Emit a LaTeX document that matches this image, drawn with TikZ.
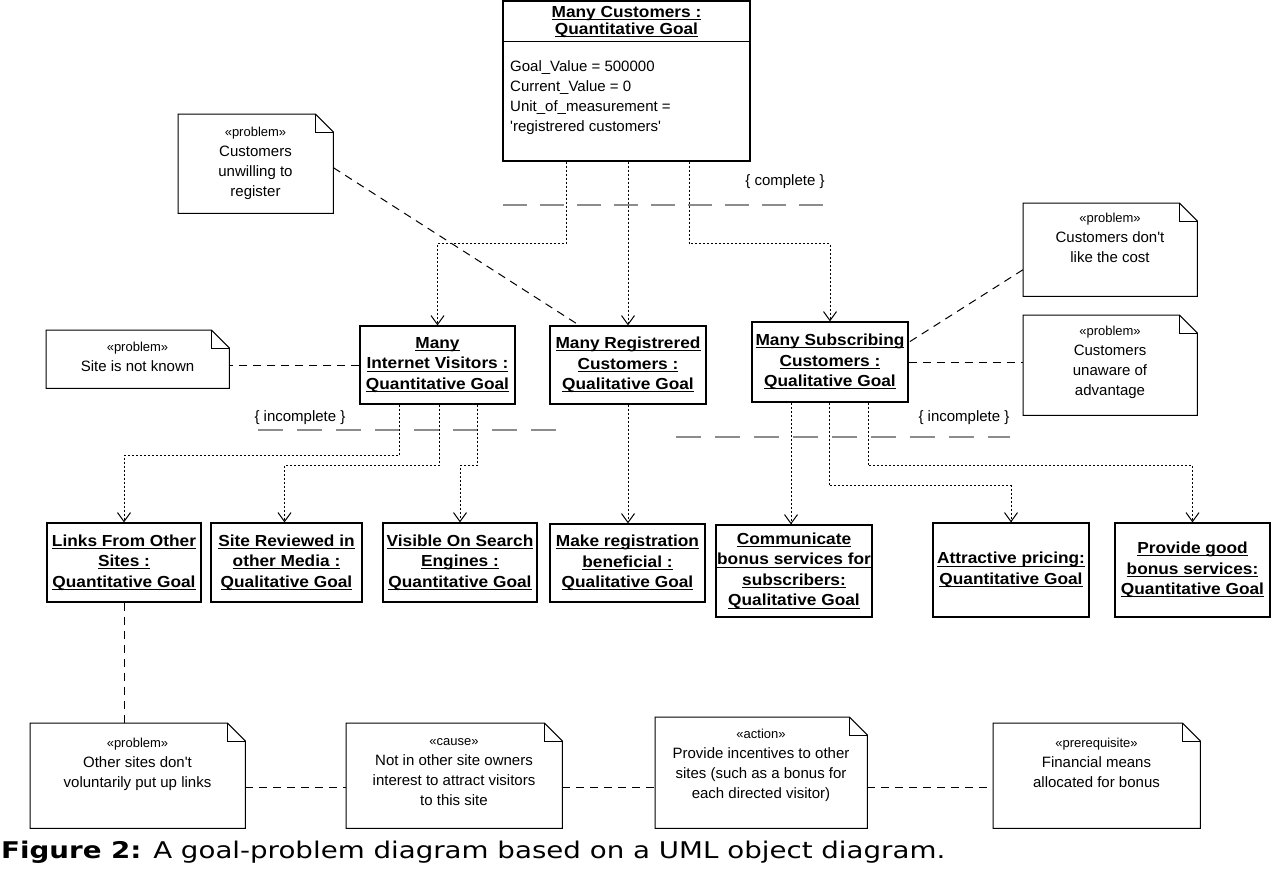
\documentclass[tikz,border=0pt]{standalone}
\usepackage{fontspec}
\setmainfont{Liberation Sans}
\newfontfamily\goalfont[FakeStretch=1.08]{Liberation Sans}
\newfontfamily\capfont{DejaVu Sans}
\usetikzlibrary{arrows.meta,calc}
\newcommand\gul[1]{\setbox0\hbox{#1}\rlap{\vrule width\wd0 height -1.6pt depth 2.6pt}\box0}
\newcommand\sty[1]{{\fontsize{13}{20}\selectfont «#1»}}
\newcommand\foldnote[1]{%
  \draw[noteline] (#1.north west) -- ([xshift=-18pt]#1.north east) -- ([yshift=-18pt]#1.north east) -- (#1.south east) -- (#1.south west) -- cycle;
  \draw[noteline] ([xshift=-18pt]#1.north east) |- ([yshift=-18pt]#1.north east);}
\begin{document}
\begin{tikzpicture}[x=1pt,y=-1pt,
  goalbox/.style={draw, line width=1.2pt, fill=white, inner sep=0pt, align=center,
    font=\goalfont\bfseries\fontsize{16}{20.5}\selectfont},
  goaltext/.style={inner sep=0pt, align=center, font=\goalfont\bfseries\fontsize{16}{17}\selectfont},
  attrtext/.style={inner sep=0pt, align=left, font=\fontsize{15}{20}\selectfont},
  notebox/.style={inner sep=0pt, draw=none},
  notetext/.style={inner sep=0pt, align=center, anchor=north, font=\fontsize{15}{20}\selectfont},
  noteline/.style={line width=1pt, line join=miter},
  dep/.style={line width=1pt, dash pattern=on 2pt off 2pt,
    -{Straight Barb[length=9pt,width=13pt,line width=1pt]}},
  attach/.style={line width=1pt, dash pattern=on 8pt off 6pt},
  constr/.style={line width=2.2pt, draw=black!45},
  cstext/.style={inner sep=0pt, font=\fontsize{15}{18}\selectfont}
]
\useasboundingbox (0,0) rectangle (1272,868);
\fill[white] (0,0) rectangle (1272,868);

% ---------- top object ----------
\node[goalbox, minimum width=247pt, minimum height=160pt] (top) at (626.5,81) {};
\draw[line width=1.2pt] ([yshift=-41pt]top.north west) -- ([yshift=-41pt]top.north east);
\node[goaltext] (topname) at (626.5,21.5) {\gul{Many Customers :}\\\gul{Quantitative Goal}};
\node[attrtext, anchor=west] (topattr) at (510,98) {Goal\_Value = 500000\\Current\_Value = 0\\Unit\_of\_measurement =\\\textquotesingle registrered customers\textquotesingle};

% ---------- second level ----------
\node[goalbox, minimum width=155pt, minimum height=78pt] (visitors) at (437.5,365)
  {\gul{Many}\\\gul{Internet Visitors :}\\\gul{Quantitative Goal}};
\node[goalbox, minimum width=156pt, minimum height=78pt] (registered) at (628,365)
  {\gul{Many Registrered}\\\gul{Customers :}\\\gul{Qualitative Goal}};
\node[goalbox, minimum width=156pt, minimum height=80pt] (subscribing) at (830,362)
  {\gul{Many Subscribing}\\\gul{Customers :}\\\gul{Qualitative Goal}};

% ---------- third level ----------
\node[goalbox, minimum width=154pt, minimum height=79pt] (links) at (124,562.5)
  {\gul{Links From Other}\\\gul{Sites :}\\\gul{Quantitative Goal}};
\node[goalbox, minimum width=151pt, minimum height=79pt] (reviewed) at (286.5,562.5)
  {\gul{Site Reviewed in}\\\gul{other Media :}\\\gul{Qualitative Goal}};
\node[goalbox, minimum width=154pt, minimum height=79pt] (visible) at (460,562.5)
  {\gul{Visible On Search}\\\gul{Engines :}\\\gul{Quantitative Goal}};
\node[goalbox, minimum width=155pt, minimum height=78pt] (makereg) at (627.5,563)
  {\gul{Make registration}\\\gul{beneficial :}\\\gul{Qualitative Goal}};
\node[goalbox, minimum width=156pt, minimum height=92pt] (communicate) at (794,571)
  {\gul{Communicate}\\\gul{bonus services for}\\\gul{subscribers:}\\\gul{Qualitative Goal}};
\node[goalbox, minimum width=156pt, minimum height=94pt] (attractive) at (1011,570)
  {\gul{Attractive pricing:}\\\gul{Quantitative Goal}};
\node[goalbox, minimum width=155pt, minimum height=94pt] (provide) at (1192.5,570)
  {\gul{Provide good}\\\gul{bonus services:}\\\gul{Quantitative Goal}};

% ---------- constraint lines ----------
\draw[constr, dash pattern=on 24pt off 13pt] (503,205) -- (830,205);
\node[cstext] (complete) at (785,182) {\{ complete \}};
\draw[constr, dash pattern=on 25pt off 14pt] (258,430) -- (558,430);
\node[cstext] (incl) at (300,418) {\{ incomplete \}};
\draw[constr, dash pattern=on 25pt off 14pt] (676,437) -- (1010,437);
\node[cstext] (incr) at (964,418) {\{ incomplete \}};

% ---------- dependency arrows ----------
\draw[dep] ([xshift=-60.5pt]top.south) -- ++(0,82) -| (visitors.north);
\draw[dep] (top.south -| registered.north) -- (registered.north);
\draw[dep] ([xshift=62.5pt]top.south) -- ++(0,82) -| (subscribing.north);

\draw[dep] ([xshift=-38.5pt]visitors.south) -- ++(0,51) -| (links.north);
\draw[dep] ([xshift=1.5pt]visitors.south) -- ++(0,61) -| ([xshift=-2pt]reviewed.north);
\draw[dep] ([xshift=39.5pt]visitors.south) -- ++(0,61) -| (visible.north);

\draw[dep] (registered.south) -- (registered.south |- makereg.north);

\draw[dep] ([xshift=-39pt]subscribing.south) -- ([xshift=-3pt]communicate.north);
\draw[dep] ([xshift=-1pt]subscribing.south) -- ++(0,83) -| (attractive.north);
\draw[dep] ([xshift=38pt]subscribing.south) -- ++(0,63) -| (provide.north);

% ---------- notes ----------
\node[notebox, minimum width=155pt, minimum height=99pt, anchor=north west] (unwilling) at (178,114) {};
\foldnote{unwilling}
\node[notetext] (unwilling-t) at (255.5,127) {\sty{problem}\\Customers\\unwilling to\\register};

\node[notebox, minimum width=174pt, minimum height=93pt, anchor=north west] (cost) at (1023,203) {};
\foldnote{cost}
\node[notetext] (cost-t) at (1110,213) {\sty{problem}\\Customers don\textquotesingle t\\like the cost};

\node[notebox, minimum width=174pt, minimum height=100pt, anchor=north west] (unaware) at (1023,315) {};
\foldnote{unaware}
\node[notetext] (unaware-t) at (1110,326) {\sty{problem}\\Customers\\unaware of\\advantage};

\node[notebox, minimum width=183pt, minimum height=58pt, anchor=north west] (notknown) at (46,330) {};
\foldnote{notknown}
\node[notetext] (notknown-t) at (137.5,342) {\sty{problem}\\Site is not known};

\node[notebox, minimum width=215pt, minimum height=105pt, anchor=north west] (othersites) at (30,723) {};
\foldnote{othersites}
\node[notetext] (othersites-t) at (137.5,738) {\sty{problem}\\Other sites don\textquotesingle t\\voluntarily put up links};

\node[notebox, minimum width=216pt, minimum height=105pt, anchor=north west] (cause) at (346,723) {};
\foldnote{cause}
\node[notetext] (cause-t) at (454,738) {\sty{cause}\\Not in other site owners\\interest to attract visitors\\to this site};

\node[notebox, minimum width=212pt, minimum height=111pt, anchor=north west] (action) at (655,717) {};
\foldnote{action}
\node[notetext] (action-t) at (761,729) {\sty{action}\\Provide incentives to other\\sites (such as a bonus for\\each directed visitor)};

\node[notebox, minimum width=207pt, minimum height=105pt, anchor=north west] (prereq) at (993,723) {};
\foldnote{prereq}
\node[notetext] (prereq-t) at (1096.5,738) {\sty{prerequisite}\\Financial means\\allocated for bonus};

% ---------- note attachments ----------
\draw[attach] ([yshift=-4pt]unwilling.east) -- ([xshift=30pt]registered.north west);
\draw[attach] ([yshift=-20pt]cost.west) -- ([yshift=-21pt]subscribing.north east);
\draw[attach] (subscribing.east) -- (subscribing.east -| unaware.west);
\draw[attach] (visitors.west) -- (visitors.west -| notknown.east);
\draw[attach] (links.south) -- (links.south |- othersites.north);
\draw[attach] ([yshift=-12pt]othersites.east) -- ([yshift=-12pt]othersites.east -| cause.west);
\draw[attach] ([yshift=-12pt]cause.east) -- ([yshift=-12pt]cause.east -| action.west);
\draw[attach] ([yshift=-12pt]prereq.west -| action.east) -- ([yshift=-12pt]prereq.west);

% ---------- caption ----------
\node[inner sep=0pt, anchor=base west] (caption) at (1,858)
  {\capfont\fontsize{23}{28}\selectfont\resizebox{944pt}{\height}{\textbf{Figure 2:} A goal-problem diagram based on a UML object diagram.}};
\end{tikzpicture}
\end{document}
